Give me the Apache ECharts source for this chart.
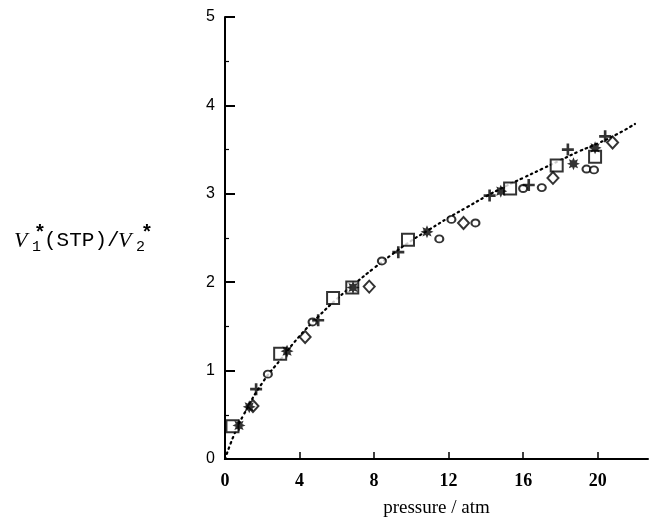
<!DOCTYPE html>
<html>
<head>
<meta charset="utf-8">
<script src="https://cdn.jsdelivr.net/npm/echarts@6/dist/echarts.min.js"></script>
<style>html,body{margin:0;padding:0;background:#fff}#c{width:652px;height:522px}</style>
</head>
<body>
<div id="c"></div>
<script>
// fitted curve
var curveX = [0, 0.5, 1, 2, 3, 4, 5, 6, 7, 8, 9, 10, 11, 12, 13, 14, 15, 16, 17, 18, 19, 20, 21, 22];
var curveY = [0, 0.28, 0.5, 0.86, 1.13, 1.39, 1.61, 1.81, 1.99, 2.16, 2.32, 2.47, 2.6, 2.73, 2.85, 2.97, 3.08, 3.18, 3.28, 3.38, 3.48, 3.57, 3.67, 3.79];
// data sets
var squareX = [0.4, 2.96, 5.8, 6.83, 9.82, 15.3, 17.8, 19.86];
var squareY = [0.37, 1.19, 1.82, 1.94, 2.48, 3.06, 3.32, 3.42];
var starX = [0.75, 1.3, 3.33, 6.87, 10.84, 14.8, 18.7, 19.86];
var starY = [0.38, 0.59, 1.22, 1.94, 2.57, 3.03, 3.34, 3.52];
var plusX = [1.67, 5.0, 9.3, 14.2, 16.3, 18.4, 20.4];
var plusY = [0.79, 1.57, 2.34, 2.98, 3.1, 3.5, 3.65];
var circleX = [2.3, 4.7, 8.42, 11.5, 12.15, 13.44, 16.0, 17.0, 19.4, 19.8];
var circleY = [0.96, 1.55, 2.24, 2.49, 2.71, 2.67, 3.06, 3.07, 3.28, 3.27];
var diamondX = [1.5, 4.3, 7.74, 12.8, 17.6, 20.8];
var diamondY = [0.6, 1.38, 1.95, 2.67, 3.18, 3.58];
var xTicks = [0, 4, 8, 12, 16, 20];
var yTicks = [0, 1, 2, 3, 4, 5];

function pairs(xs, ys) { return xs.map(function (x, i) { return [x, ys[i]]; }); }

// asterisk symbol shape
function starPath() {
  var pts = [], n = 8, R = 10, r = 5.5;
  for (var k = 0; k < 2 * n; k++) {
    var a = Math.PI * k / n - Math.PI / 2;
    var rad = (k % 2 === 0) ? R : r;
    pts.push((10 + rad * Math.cos(a)).toFixed(2) + ',' + (10 + rad * Math.sin(a)).toFixed(2));
  }
  return 'path://M' + pts.join('L') + 'Z';
}
var plusPath = 'path://M3.9,0H6.1V3.9H10V6.1H6.1V10H3.9V6.1H0V3.9H3.9Z';

var chart = echarts.init(document.getElementById('c'), null, { renderer: 'canvas' });
var openStyle = { color: '#fff', borderColor: '#000', borderWidth: 2 };

chart.setOption({
  animation: false,
  backgroundColor: '#fff',
  grid: { left: 225, right: 4, top: 17, bottom: 63, containLabel: false, outerBoundsMode: 'none' },
  xAxis: {
    type: 'value', min: 0, max: 22.7, interval: 4,
    splitLine: { show: false },
    axisLine: { show: true, onZero: false, lineStyle: { color: '#000', width: 2 } },
    axisTick: { show: true, inside: true, length: 7, lineStyle: { color: '#000', width: 1.5 }, customValues: xTicks },
    axisLabel: { color: '#000', fontFamily: 'Liberation Serif', fontWeight: 'bold', fontSize: 18, margin: 13, customValues: xTicks },
    name: 'pressure / atm', nameLocation: 'middle', nameGap: 40,
    nameTextStyle: { color: '#000', fontFamily: 'Liberation Serif', fontSize: 19 }
  },
  yAxis: {
    type: 'value', min: 0, max: 5, interval: 1,
    splitLine: { show: false },
    axisLine: { show: true, onZero: false, lineStyle: { color: '#000', width: 2 } },
    axisTick: { show: true, inside: true, length: 10, lineStyle: { color: '#000', width: 2 }, customValues: yTicks },
    minorTick: { show: true, splitNumber: 2, length: 4, lineStyle: { color: '#000', width: 1.2 } },
    axisLabel: { color: '#000', fontFamily: 'Liberation Sans', fontSize: 16, margin: 10, customValues: yTicks }
  },
  graphic: [
    { type: 'text', left: 14, top: 230, style: { text: 'V', font: 'italic 22px "Liberation Serif"', fill: '#000' } },
    { type: 'text', left: 32, top: 240, style: { text: '1', font: '15px "Liberation Mono"', fill: '#000' } },
    { type: 'text', left: 36, top: 222, style: { text: '*', font: 'bold 20px "Liberation Sans"', fill: '#000' } },
    { type: 'text', left: 44, top: 230, style: { text: '(STP)/', font: '21px "Liberation Mono"', fill: '#000' } },
    { type: 'text', left: 118, top: 230, style: { text: 'V', font: 'italic 22px "Liberation Serif"', fill: '#000' } },
    { type: 'text', left: 136, top: 240, style: { text: '2', font: '15px "Liberation Mono"', fill: '#000' } },
    { type: 'text', left: 143, top: 222, style: { text: '*', font: 'bold 20px "Liberation Sans"', fill: '#000' } }
  ],
  series: [
    { type: 'line', data: pairs(curveX, curveY), smooth: true, symbol: 'none', silent: true,
      lineStyle: { color: '#000', width: 2.2, type: [1.5, 4], cap: 'round' }, z: 1 },
    { type: 'scatter', data: pairs(squareX, squareY), symbol: 'rect', symbolSize: 12, itemStyle: openStyle, z: 3 },
    { type: 'scatter', data: pairs(diamondX, diamondY), symbol: 'diamond', symbolSize: [11, 12], itemStyle: openStyle, z: 3 },
    { type: 'scatter', data: pairs(circleX, circleY), symbol: 'circle', symbolSize: [8, 7], itemStyle: openStyle, z: 3 },
    { type: 'scatter', data: pairs(plusX, plusY), symbol: plusPath, symbolSize: 12, itemStyle: { color: '#000' }, z: 4 },
    { type: 'scatter', data: pairs(starX, starY), symbol: starPath(), symbolSize: 13, itemStyle: { color: '#000' }, z: 4 }
  ]
});
</script>
</body>
</html>
